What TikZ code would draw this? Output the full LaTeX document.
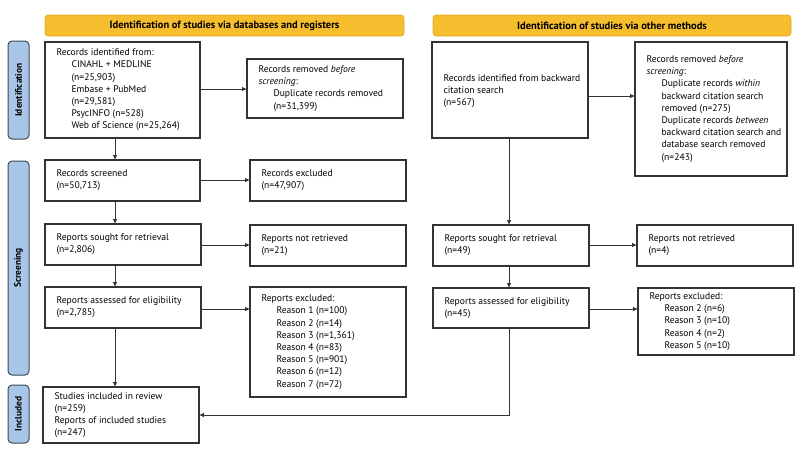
\documentclass[tikz,border=0pt]{standalone}
\usepackage{fontspec}
\setmainfont{PT Sans}
\usetikzlibrary{arrows.meta}
\definecolor{hdr}{HTML}{F6BE2E}
\definecolor{hdrb}{HTML}{E3A52A}
\definecolor{side}{HTML}{A9C6E8}
\definecolor{sideb}{HTML}{3C4A5A}
\definecolor{boxb}{HTML}{333333}
\begin{document}
\begin{tikzpicture}[x=1pt,y=-1pt,
  every node/.style={font=\fontsize{9.6}{12.2}\selectfont},
  bx/.style={draw=boxb,line width=1.1pt,fill=white},
  hd/.style={draw=hdrb,fill=hdr,rounded corners=3pt,line width=0.6pt},
  sd/.style={draw=sideb,fill=side,rounded corners=4pt,line width=1pt},
  hdt/.style={font=\fontsize{10.5}{12}\selectfont\bfseries},
  sdt/.style={rotate=90,font=\fontsize{9.4}{11}\selectfont\bfseries},
  arr/.style={draw=boxb,line width=0.8pt,-{Latex[length=5pt,width=4.5pt]}}]
\useasboundingbox (0,0) rectangle (800,456);
\fill[white] (0,0) rectangle (800,456);
% headers
\draw[hd] (45,15) rectangle (404,36);
\node[hdt] (h1) at (224.5,25.5) {Identification of studies via databases and registers};
\draw[hd] (433,15) rectangle (791,36);
\node[hdt] (h2) at (612,25.5) {Identification of studies via other methods};
% side labels
\draw[sd] (8,41) rectangle (29,139);
\node[sdt] (s1) at (18.5,90) {Identification};
\draw[sd] (8,161) rectangle (29,375);
\node[sdt] (s2) at (18.5,268) {Screening};
\draw[sd] (8,385) rectangle (29,443);
\node[sdt] (s3) at (18.5,414) {Included};
% left column boxes
\draw[bx] (45,42) rectangle (200,138);
\node[anchor=west,align=left] (a1) at (53,90) {Records identified from:\\
\hspace*{15pt}CINAHL + MEDLINE\\
\hspace*{15pt}(n=25,903)\\
\hspace*{15pt}Embase + PubMed\\
\hspace*{15pt}(n=29,581)\\
\hspace*{15pt}PsycINFO (n=528)\\
\hspace*{15pt}Web of Science (n=25,264)};
\draw[bx] (247,59) rectangle (403,118);
\node[anchor=west,align=left] (b1) at (255,88.5) {Records removed \textit{before}\\
\textit{screening}:\\
\hspace*{15pt}Duplicate records removed\\
\hspace*{15pt}(n=31,399)};

\draw[bx] (45,160) rectangle (200,201);
\node[anchor=west,align=left] (a2) at (53,180.5) {Records screened\\(n=50,713)};
\draw[bx] (250,160) rectangle (406,201);
\node[anchor=west,align=left] (b2) at (258,180.5) {Records excluded\\(n=47,907)};

\draw[bx] (45,224) rectangle (201,265);
\node[anchor=west,align=left] (a3) at (53,244.5) {Reports sought for retrieval\\(n=2,806)};
\draw[bx] (250,225) rectangle (406,266);
\node[anchor=west,align=left] (b3) at (258,245.5) {Reports not retrieved\\(n=21)};

\draw[bx] (45,287) rectangle (201,328);
\node[anchor=west,align=left] (a4) at (53,307.5) {Reports assessed for eligibility\\(n=2,785)};
\draw[bx] (250,287) rectangle (406,397);
\node[anchor=west,align=left] (b4) at (258,342) {Reports excluded:\\
\hspace*{15pt}Reason 1 (n=100)\\
\hspace*{15pt}Reason 2 (n=14)\\
\hspace*{15pt}Reason 3 (n=1,361)\\
\hspace*{15pt}Reason 4 (n=83)\\
\hspace*{15pt}Reason 5 (n=901)\\
\hspace*{15pt}Reason 6 (n=12)\\
\hspace*{15pt}Reason 7 (n=72)};

\draw[bx] (43,387) rectangle (199,443);
\node[anchor=west,align=left] (a5) at (51,415) {Studies included in review\\(n=259)\\Reports of included studies\\(n=247)};

% right column boxes
\draw[bx] (432,42) rectangle (588,138);
\node[anchor=west,align=left] (c1) at (440,91) {Records identified from backward\\citation search\\(n=567)};
\draw[bx] (635,42) rectangle (787,176);
\node[anchor=west,align=left] (d1) at (643,109) {Records removed \textit{before}\\
\textit{screening}:\\
\hspace*{15pt}Duplicate records \textit{within}\\
\hspace*{15pt}backward citation search\\
\hspace*{15pt}removed (n=275)\\
\hspace*{15pt}Duplicate records \textit{between}\\
\hspace*{15pt}backward citation search and\\
\hspace*{15pt}database search removed\\
\hspace*{15pt}(n=243)};

\draw[bx] (433,225) rectangle (589,266);
\node[anchor=west,align=left] (c3) at (441,245.5) {Reports sought for retrieval\\(n=49)};
\draw[bx] (637,225) rectangle (793,266);
\node[anchor=west,align=left] (d3) at (645,245.5) {Reports not retrieved\\(n=4)};

\draw[bx] (433,288) rectangle (589,328);
\node[anchor=west,align=left] (c4) at (441,308) {Reports assessed for eligibility\\(n=45)};
\draw[bx] (638,288) rectangle (794,355);
\node[anchor=west,align=left] (d4) at (646,321.5) {Reports excluded:\\
\hspace*{15pt}Reason 2 (n=6)\\
\hspace*{15pt}Reason 3 (n=10)\\
\hspace*{15pt}Reason 4 (n=2)\\
\hspace*{15pt}Reason 5 (n=10)};

% connectors (left)
\draw[arr] (201,89) -- (247,89);
\draw[arr] (115,138) -- (115,160);
\draw[arr] (201,180) -- (250,180);
\draw[arr] (115,201) -- (115,224);
\draw[arr] (201,245) -- (250,245);
\draw[arr] (115,265) -- (115,287);
\draw[arr] (202,309) -- (250,309);
\draw[arr] (115,328) -- (115,387);
% connectors (right)
\draw[arr] (588,96) -- (635,96);
\draw[arr] (509,138) -- (509,225);
\draw[arr] (589,245) -- (637,245);
\draw[arr] (509,266) -- (509,288);
\draw[arr] (590,309) -- (638,309);
\draw[arr] (509,328) -- (509,415) -- (199,415);
\end{tikzpicture}
\end{document}
